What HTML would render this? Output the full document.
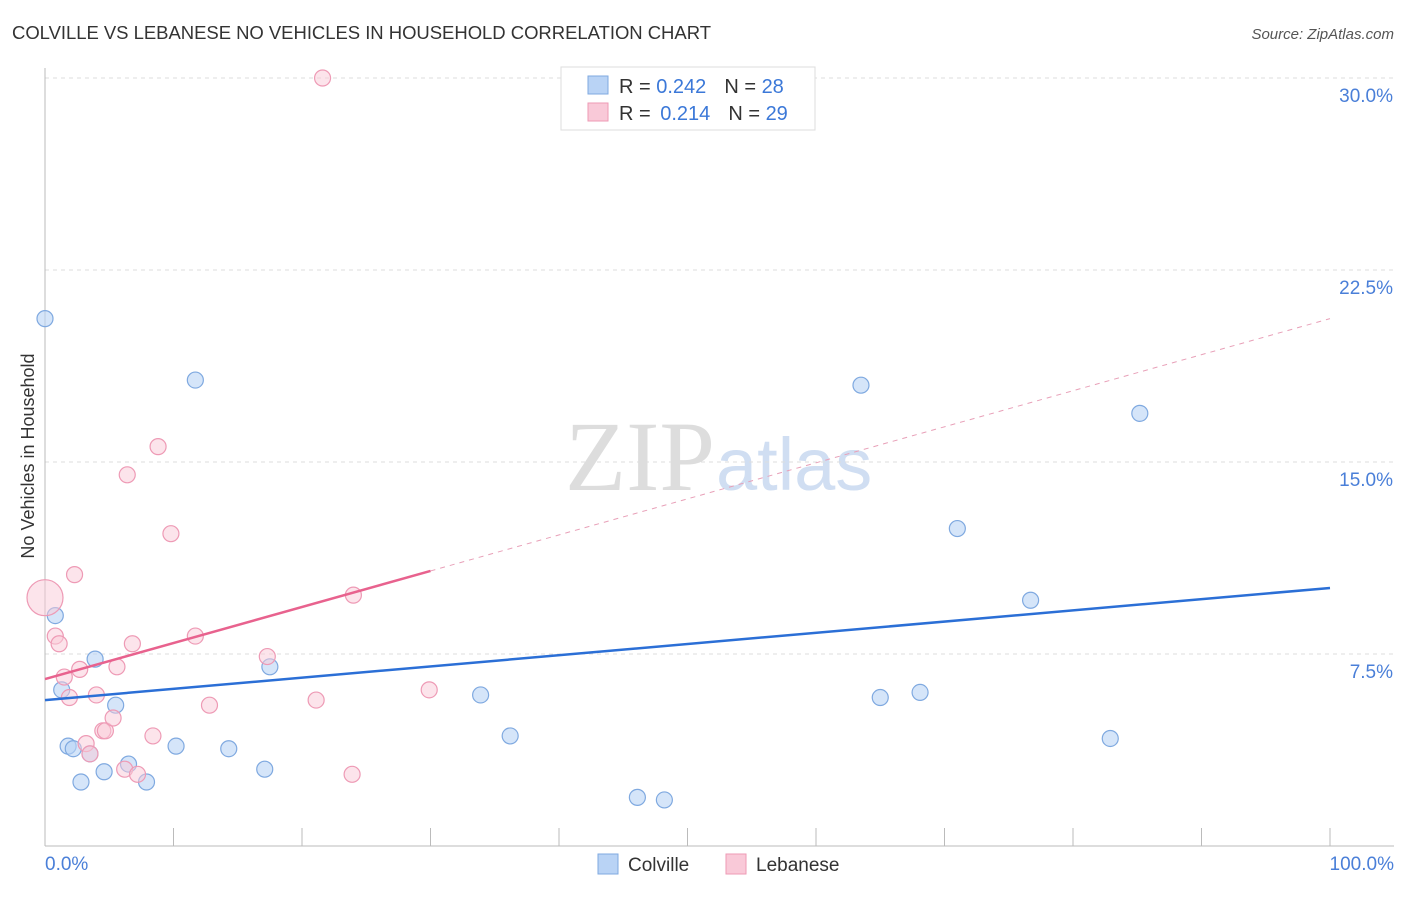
<!DOCTYPE html>
<html><head><meta charset="utf-8"><style>
body{margin:0;background:#fff;font-family:"Liberation Sans",sans-serif;}
</style></head><body>
<svg width="1406" height="892" xmlns="http://www.w3.org/2000/svg">
<text x="12" y="39" font-size="18.5" fill="#333" textLength="699">COLVILLE VS LEBANESE NO VEHICLES IN HOUSEHOLD CORRELATION CHART</text>
<text x="1394" y="39" font-size="15" fill="#555" text-anchor="end" font-style="italic">Source: ZipAtlas.com</text>
<text x="715" y="490" font-size="100" fill="#ddd" text-anchor="end" font-family="Liberation Serif">ZIP</text>
<text x="716" y="490" font-size="74" fill="#d0def2">atlas</text>
<g id="grid"></g>
<g id="axes"></g>
<text transform="translate(34,456) rotate(-90)" font-size="18" fill="#333" text-anchor="middle">No Vehicles in Household</text>
<text x="45" y="870" font-size="19" fill="#4a7fd8">0.0%</text>
<text x="1394" y="870" font-size="19" fill="#4a7fd8" text-anchor="end">100.0%</text>
<g id="marks"></g>
<g>
<rect x="561" y="67" width="254" height="63" fill="#fff" stroke="#ddd"/>
<rect x="588" y="76" width="20" height="18" fill="#b9d3f5" stroke="#7fa9e0"/>
<rect x="588" y="103" width="20" height="18" fill="#f9c9d8" stroke="#ee9ab5"/>
<text x="619" y="93" font-size="20" fill="#333">R = <tspan fill="#3b78d8">0.242</tspan><tspan dx="18">N = </tspan><tspan fill="#3b78d8">28</tspan></text>
<text x="619" y="120" font-size="20" fill="#333">R = <tspan dx="4" fill="#3b78d8">0.214</tspan><tspan dx="18">N = </tspan><tspan fill="#3b78d8">29</tspan></text>
</g>
<g>
<rect x="598" y="854" width="20" height="20" fill="#b9d3f5" stroke="#7fa9e0"/>
<text x="628" y="871" font-size="19" fill="#333">Colville</text>
<rect x="726" y="854" width="20" height="20" fill="#f9c9d8" stroke="#ee9ab5"/>
<text x="756" y="871" font-size="19" fill="#333">Lebanese</text>
</g>
</svg>
<script>
const yTicks=[7.5,15,22.5,30];
const yTickLabels=["7.5%","15.0%","22.5%","30.0%"];
const colvilleX=[0,0.8,1.3,3.9,1.8,2.2,3.5,2.8,4.6,5.5,6.5,7.9,10.2,11.7,14.3,17.1,17.5,33.9,36.2,46.1,48.2,63.5,65,68.1,71,76.7,82.9,85.2];
const colvilleY=[20.6,9.0,6.1,7.3,3.9,3.8,3.6,2.5,2.9,5.5,3.2,2.5,3.9,18.2,3.8,3.0,7.0,5.9,4.3,1.9,1.8,18.0,5.8,6.0,12.4,9.6,4.2,16.9];
const lebaneseX=[0,0.8,1.1,1.5,1.9,2.3,2.7,3.2,3.5,4.0,4.5,4.7,5.3,5.6,6.2,6.4,6.8,7.2,8.4,8.8,9.8,11.7,12.8,17.3,21.1,23.9,24.0,29.9,21.6];
const lebaneseY=[9.7,8.2,7.9,6.6,5.8,10.6,6.9,4.0,3.6,5.9,4.5,4.5,5.0,7.0,3.0,14.5,7.9,2.8,4.3,15.6,12.2,8.2,5.5,7.4,5.7,2.8,9.8,6.1,30.0];
const blueTrend=[5.70,10.08];
const pinkTrend=[6.52,20.6];
const ns="http://www.w3.org/2000/svg";
const X=v=>45+v*12.85, Y=v=>846-v*25.6;
function mk(t,a,p){const e=document.createElementNS(ns,t);for(const k in a)e.setAttribute(k,a[k]);p.appendChild(e);return e;}
const grid=document.getElementById('grid'),axes=document.getElementById('axes'),marks=document.getElementById('marks');
yTicks.forEach((t,i)=>{
 const l=mk('line',{x1:45,x2:1394,y1:Y(t),y2:Y(t),stroke:'#ddd','stroke-dasharray':'4,4'},grid);
 
 
 const tx=mk('text',{x:1393,y:Y(t)+24,'font-size':19,fill:'#4a7fd8','text-anchor':'end'},grid);
 tx.textContent=yTickLabels[i];
 
 
});
mk('line',{x1:45,x2:45,y1:68,y2:846,stroke:'#bbb'},axes);
mk('line',{x1:45,x2:1394,y1:846,y2:846,stroke:'#bbb'},axes);
for(let i=0;i<=10;i++){const t=mk('line',{x1:X(i*10),x2:X(i*10),y1:828,y2:846,stroke:'#bbb'},axes);
 
 }
function pts(xs,ys,fill,stroke,name){xs.forEach((x,i)=>{
 const c=mk('circle',{cx:X(x),cy:Y(ys[i]),r:(name=='lebanese-point'&&i==0)?18:8,fill:fill,stroke:stroke,'stroke-width':1.2},marks);
 
 });}
pts(colvilleX,colvilleY,'rgba(185,211,245,0.6)','#7fa9e0','colville-point');
pts(lebaneseX,lebaneseY,'rgba(249,201,216,0.5)','#ee9ab5','lebanese-point');
const bl=mk('line',{x1:X(0),y1:Y(blueTrend[0]),x2:X(100),y2:Y(blueTrend[1]),stroke:'#2b6fd6','stroke-width':2.5},marks);


const py=x=>pinkTrend[0]+(pinkTrend[1]-pinkTrend[0])*x/100;
const ps=mk('line',{x1:X(0),y1:Y(py(0)),x2:X(30),y2:Y(py(30)),stroke:'#e8628e','stroke-width':2.5},marks);


const pd=mk('line',{x1:X(30),y1:Y(py(30)),x2:X(100),y2:Y(py(100)),stroke:'#e8a0b8','stroke-width':1,'stroke-dasharray':'5,5'},marks);


</script>
</body></html>
